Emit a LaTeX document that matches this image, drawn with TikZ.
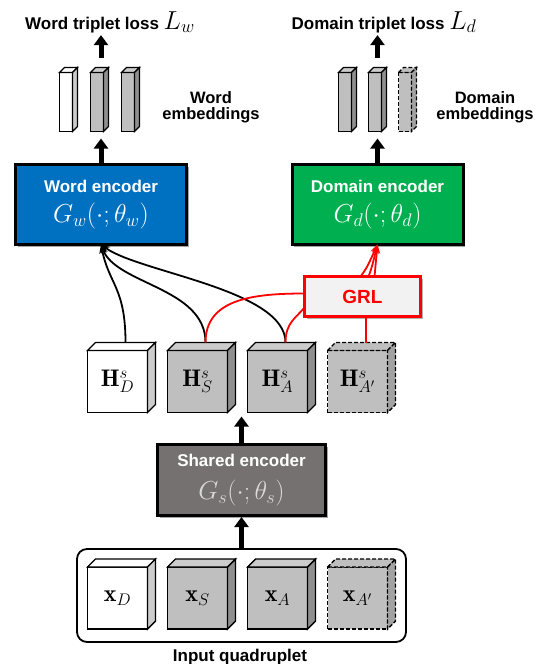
\RequirePackage{fix-cm}
\documentclass[tikz,border=0pt]{standalone}
\usepackage{fontspec}
\setsansfont{Liberation Sans}
\usetikzlibrary{arrows.meta,shadows}

\definecolor{wordblue}{HTML}{0070C0}
\definecolor{domgreen}{HTML}{00B050}
\definecolor{sharedgrey}{HTML}{767171}
\definecolor{sharedtext}{HTML}{D9D9D9}
\definecolor{cubegrey}{HTML}{BFBFBF}
\definecolor{grlred}{HTML}{FF0000}
\definecolor{grlfill}{HTML}{F2F2F2}

\newcommand{\tagfont}{\sffamily\bfseries\fontsize{17}{18}\selectfont}
\newcommand{\embfont}{\sffamily\bfseries\fontsize{16.5}{16.5}\selectfont}
\newcommand{\bigmath}{\fontsize{26}{30}\selectfont}
\newcommand{\cubemath}{\fontsize{24}{28}\selectfont}

\newcommand{\depthfaces}[5]{%
	\draw[#3, fill=#4] (#1.north west) -- ++(#2,-#2) -- ([shift={(#2,-#2)}]#1.north east) -- (#1.north east) -- cycle;
	\draw[#3, fill=#5] (#1.north east) -- ([shift={(#2,-#2)}]#1.north east) -- ([shift={(#2,-#2)}]#1.south east) -- (#1.south east) -- cycle;
}

\tikzset{
	encoder/.style={draw, line width=3pt, minimum width=171pt, minimum height=80pt, outer sep=0pt, align=center, text=white, font=\tagfont, drop shadow={shadow xshift=2pt, shadow yshift=-2pt, fill=black, opacity=0.35}},
	featcube/.style={draw, line width=1.4pt, minimum width=60pt, minimum height=62pt, inner sep=0pt, outer sep=0pt, font=\cubemath},
	embbar/.style={draw, line width=1.2pt, minimum width=13pt, minimum height=59pt, inner sep=0pt, outer sep=0pt},
	dashline/.style={dash pattern=on 4pt off 2pt},
	tagtext/.style={font=\tagfont, inner sep=0pt},
	bigarrow/.style={line width=5pt, -{Triangle[width=14pt, length=10pt]}},
	feed/.style={line width=1.8pt, -{Stealth[length=9pt, width=7pt]}},
	redfeed/.style={feed, draw=grlred},
}

\begin{document}
\begin{tikzpicture}[x=1pt, y=-1pt]
	\useasboundingbox (0,0) rectangle (535,664);

	\node (wloss)[tagtext, anchor=base] at (110,29) {Word triplet loss {\bigmath$L_w$}};
	\node (dloss)[tagtext, anchor=base] at (384,29) {Domain triplet loss {\bigmath$L_d$}};

	\node (wb1)[embbar, fill=white] at (66,102) {};
	\node (wb2)[embbar, fill=cubegrey] at (97,102) {};
	\node (wb3)[embbar, fill=cubegrey] at (128,102) {};
	\depthfaces{wb1}{5}{line width=1.2pt}{white}{black!20}
	\depthfaces{wb2}{5}{line width=1.2pt}{cubegrey!80!white}{cubegrey!75!black}
	\depthfaces{wb3}{5}{line width=1.2pt}{cubegrey!80!white}{cubegrey!75!black}
	\node (wemb)[tagtext, font=\embfont, align=center] at (211,107.4) {Word\\embeddings};

	\node (db1)[embbar, fill=cubegrey] at (345,102) {};
	\node (db2)[embbar, fill=cubegrey] at (375,102) {};
	\node (db3)[embbar, dashline, fill=cubegrey] at (405,102) {};
	\depthfaces{db1}{5}{line width=1.2pt}{cubegrey!80!white}{cubegrey!75!black}
	\depthfaces{db2}{5}{line width=1.2pt}{cubegrey!80!white}{cubegrey!75!black}
	\depthfaces{db3}{5}{line width=1.2pt, dashline}{cubegrey}{cubegrey!85!black}
	\node (demb)[tagtext, font=\embfont, align=center] at (485,107.4) {Domain\\embeddings};

	\node (wenc)[encoder, fill=wordblue] at (101,204.5) {Word encoder\\[9pt]{\bigmath$G_w(\cdot;\theta_w)$}};
	\node (denc)[encoder, fill=domgreen] at (377.5,204.5) {Domain encoder\\[9pt]{\bigmath$G_d(\cdot;\theta_d)$}};

	\node (grl)[draw=grlred, line width=3pt, fill=grlfill, text=grlred, minimum width=116pt, minimum height=40pt, outer sep=0pt, font=\sffamily\bfseries\fontsize{19}{22}\selectfont, drop shadow={shadow xshift=2pt, shadow yshift=-2pt, fill=black, opacity=0.3}] at (362.5,296.5) {GRL};

	\node (hd)[featcube, fill=white] at (117.5,381.5) {$\mathbf{H}^s_D$};
	\node (hs)[featcube, fill=cubegrey] at (197.5,381.5) {$\mathbf{H}^s_S$};
	\node (ha)[featcube, fill=cubegrey] at (277.5,381.5) {$\mathbf{H}^s_A$};
	\node (ha2)[featcube, dashline, fill=cubegrey] at (357.5,381.5) {$\mathbf{H}^s_{A'}$};
	\depthfaces{hd}{8}{line width=1.4pt}{white}{black!20}
	\depthfaces{hs}{8}{line width=1.4pt}{cubegrey!80!white}{cubegrey!75!black}
	\depthfaces{ha}{8}{line width=1.4pt}{cubegrey!80!white}{cubegrey!75!black}
	\depthfaces{ha2}{8}{line width=1.4pt, dashline}{cubegrey}{cubegrey!85!black}
	\coordinate (hdtop) at ([shift={(8,-8)}]hd.north);
	\coordinate (hstop) at ([shift={(8,-8)}]hs.north);
	\coordinate (hatop) at ([shift={(8,-8)}]ha.north);
	\coordinate (ha2top) at ([shift={(8.5,-8)}]ha2.north);

	\node (senc)[encoder, fill=sharedgrey, minimum width=168pt, minimum height=71pt] at (241.5,480) {Shared encoder\\[13pt]{\color{sharedtext}\bigmath$G_s(\cdot;\theta_s)$}};

	\node (inbox)[draw, line width=1.8pt, rounded corners=10pt, minimum width=329pt, minimum height=93pt, outer sep=0pt] at (241.5,595.5) {};
	\node (xd)[featcube, fill=white] at (117.5,598) {$\mathbf{x}_D$};
	\node (xs)[featcube, fill=cubegrey] at (197.5,598) {$\mathbf{x}_S$};
	\node (xa)[featcube, fill=cubegrey] at (277.5,598) {$\mathbf{x}_A$};
	\node (xa2)[featcube, dashline, fill=cubegrey] at (357.5,598) {$\mathbf{x}_{A'}$};
	\depthfaces{xd}{8}{line width=1.4pt}{white}{black!20}
	\depthfaces{xs}{8}{line width=1.4pt}{cubegrey!80!white}{cubegrey!75!black}
	\depthfaces{xa}{8}{line width=1.4pt}{cubegrey!80!white}{cubegrey!75!black}
	\depthfaces{xa2}{8}{line width=1.4pt, dashline}{cubegrey}{cubegrey!85!black}
	\node (inlabel)[tagtext] at (240,657) {Input quadruplet};

	\draw[bigarrow, shorten <=15pt, shorten >=2pt] (wb2.north -| wenc.north) -- (wloss.south -| wenc.north);
	\draw[bigarrow, shorten >=7pt] (wenc.north) -- (wb2.south -| wenc.north);
	\draw[bigarrow, shorten <=15pt, shorten >=2pt] (db2.north -| denc.north) -- (dloss.south -| denc.north);
	\draw[bigarrow, shorten >=7pt] (denc.north) -- (db2.south -| denc.north);
	\draw[bigarrow, shorten >=4pt] (senc.north) -- (hs.south -| senc.north);
	\draw[bigarrow, shorten >=1.5pt] (inbox.north) -- (senc.south);

	\draw[feed] (hdtop) .. controls +(0,-55) and +(8,40) .. (wenc.south);
	\draw[feed] (hstop) .. controls +(0,-55) and +(15,40) .. (wenc.south);
	\draw[feed] (hatop) .. controls +(0,-53) and +(38,28) .. (wenc.south);

	\draw[redfeed, -] (hstop) .. controls +(0,-43) and +(-53,0) .. ([yshift=3pt]grl.west);
	\draw[redfeed, -] (hatop) .. controls +(0,-20) and +(-8,10) .. ([yshift=-11pt]grl.west);
	\draw[redfeed, -] (ha2top) -- (ha2top |- grl.south);
	\draw[redfeed] ([xshift=-2pt]grl.north) .. controls +(6,-8) .. (denc.south);
	\draw[redfeed] ([xshift=6pt]grl.north) .. controls +(3,-8) .. (denc.south);
	\draw[redfeed] ([xshift=12pt]grl.north) -- (denc.south);
\end{tikzpicture}
\end{document}
